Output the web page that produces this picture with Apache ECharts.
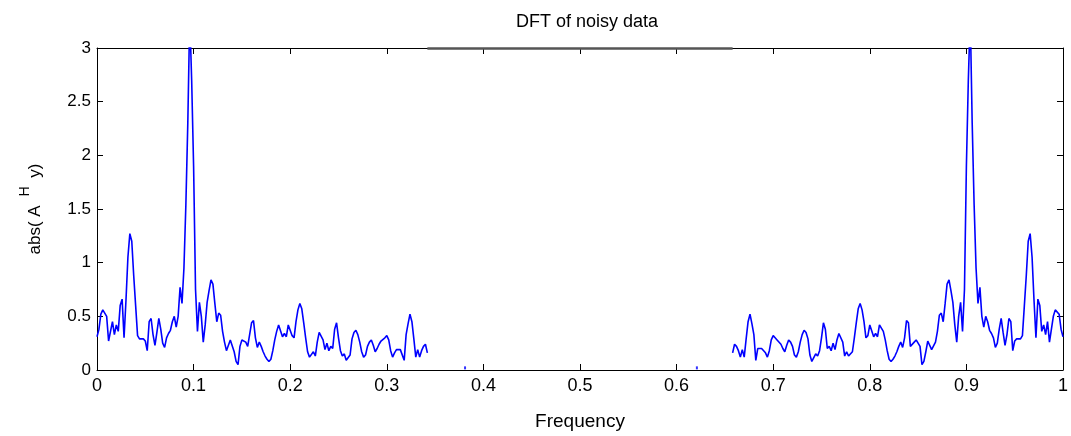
<!DOCTYPE html>
<html>
<head>
<meta charset="utf-8">
<script src="https://cdn.jsdelivr.net/npm/echarts@6/dist/echarts.min.js"></script>
<style>html,body{margin:0;padding:0;background:#fff;}#c{width:1071px;height:436px;}</style>
</head>
<body>
<div id="c"></div>
<script>
// Frequency grid step and start of each visible band
const freqStep = 0.002;
const leftStart = 0.0;
const rightStart = 0.658;
// |A^H y|, low band (0 .. 0.342)
const leftMag = [
0.31,0.38,0.52,0.56,0.56,0.50,0.27,0.26,0.45,0.33,
0.42,0.36,0.60,0.66,0.30,0.65,1.05,1.27,1.20,0.88,
0.60,0.32,0.29,0.29,0.29,0.27,0.18,0.45,0.48,0.33,
0.23,0.35,0.48,0.38,0.25,0.21,0.30,0.34,0.37,0.45,
0.50,0.40,0.50,0.77,0.62,0.95,1.54,2.30,3.30,2.70,
1.90,0.75,0.36,0.63,0.50,0.26,0.42,0.63,0.74,0.84,
0.80,0.62,0.45,0.53,0.51,0.36,0.26,0.18,0.19,0.28,
0.27,0.17,0.08,0.05,0.22,0.28,0.28,0.26,0.22,0.22,
0.44,0.46,0.30,0.21,0.26,0.22,0.17,0.13,0.10,0.08,
0.10,0.18,0.28,0.36,0.42,0.42,0.31,0.34,0.31,0.42,
0.42,0.32,0.30,0.45,0.56,0.62,0.57,0.44,0.30,0.17,
0.12,0.13,0.17,0.13,0.26,0.35,0.34,0.28,0.19,0.25,
0.18,0.22,0.20,0.38,0.44,0.30,0.18,0.13,0.15,0.09,
0.08,0.14,0.29,0.35,0.37,0.33,0.26,0.17,0.12,0.14,
0.22,0.26,0.28,0.23,0.17,0.20,0.24,0.27,0.28,0.30,
0.32,0.28,0.18,0.12,0.16,0.19,0.20,0.19,0.20,0.09,
0.33,0.43,0.52,0.45,0.29,0.12,0.19,0.12,0.18,0.22,
0.24,0.16
];
// high band (0.658 .. 1.0)
const rightMag = [
0.16,0.24,0.22,0.18,0.12,0.19,0.12,0.29,0.45,0.52,0.43,0.33,
0.09,0.20,0.19,0.20,0.19,0.16,0.12,0.18,0.28,0.32,
0.30,0.28,0.27,0.24,0.20,0.17,0.23,0.28,0.26,0.22,
0.14,0.12,0.17,0.26,0.33,0.37,0.35,0.29,0.14,0.08,
0.09,0.15,0.13,0.18,0.30,0.44,0.38,0.20,0.22,0.18,
0.25,0.19,0.28,0.34,0.35,0.26,0.13,0.17,0.13,0.12,
0.17,0.30,0.44,0.57,0.62,0.56,0.45,0.30,0.32,0.42,
0.42,0.31,0.34,0.31,0.42,0.42,0.36,0.28,0.18,0.10,
0.08,0.10,0.13,0.17,0.22,0.26,0.21,0.30,0.46,0.44,
0.22,0.22,0.26,0.28,0.28,0.22,0.05,0.08,0.17,0.27,
0.28,0.19,0.18,0.26,0.36,0.51,0.53,0.45,0.62,0.80,
0.84,0.74,0.63,0.42,0.26,0.50,0.63,0.36,0.75,1.90,
2.70,3.30,2.30,1.54,0.95,0.62,0.77,0.50,0.40,0.50,
0.45,0.37,0.34,0.30,0.21,0.25,0.38,0.48,0.35,0.23,
0.33,0.48,0.45,0.18,0.27,0.29,0.29,0.29,0.32,0.60,
0.88,1.20,1.27,1.05,0.65,0.30,0.66,0.60,0.36,0.42,
0.33,0.45,0.26,0.27,0.50,0.56,0.56,0.52,0.38,0.31
];
// isolated points in the stop band
const dotFreq = [0.381, 0.621];
const dotMag = [0.02, 0.02];
const xTicks = [0,0.1,0.2,0.3,0.4,0.5,0.6,0.7,0.8,0.9,1];
const yTicks = [0,0.5,1,1.5,2,2.5,3];

const pairs = (start, vals) => vals.map((v, i) => [+(start + i * freqStep).toFixed(4), v]);
const leftData = pairs(leftStart, leftMag);
const rightData = pairs(rightStart, rightMag);
const dotData = dotFreq.map((f, i) => [f, dotMag[i]]);

const FONT = 'Liberation Sans';
const chart = echarts.init(document.getElementById('c'), null, {renderer: 'canvas'});
const lineStyle = {color: '#0000ff', width: 1.6};
const axisCommon = {
  type: 'value',
  axisLine: {show: true, onZero: false, lineStyle: {color: '#000', width: 1}},
  axisTick: {show: true, inside: true, length: 6, lineStyle: {color: '#000', width: 1}},
  splitLine: {show: false}
};
chart.setOption({
  animation: false,
  backgroundColor: '#fff',
  title: {
    text: 'DFT of noisy data',
    left: 582, top: 8, textAlign: 'center',
    textStyle: {fontFamily: FONT, fontSize: 18, fontWeight: 'normal', color: '#000'}
  },
  grid: {left: 97, right: 3, top: 48, bottom: 66},
  xAxis: [
    Object.assign({}, axisCommon, {
      min: 0, max: 1, interval: 0.1, position: 'bottom',
      name: 'Frequency', nameLocation: 'middle', nameGap: 42,
      nameTextStyle: {fontFamily: FONT, fontSize: 19, color: '#000'},
      axisLabel: {fontFamily: FONT, fontSize: 18, color: '#000', margin: 7,
        formatter: v => String(+v.toFixed(1))}
    }),
    Object.assign({}, axisCommon, {
      min: 0, max: 1, interval: 0.1, position: 'top', axisLabel: {show: false}
    })
  ],
  yAxis: [
    Object.assign({}, axisCommon, {
      min: 0, max: 3, interval: 0.5, position: 'left',
      name: '{n|abs( A }{s|H}{n| y)}', nameLocation: 'middle', nameGap: 53, nameRotate: 90,
      nameTextStyle: {fontFamily: FONT, fontSize: 17, color: '#000',
        rich: {n: {fontFamily: FONT, fontSize: 17, color: '#000', verticalAlign: 'bottom', lineHeight: 26},
               s: {fontFamily: FONT, fontSize: 14, color: '#000', verticalAlign: 'top', padding: [0, 4, 12, 4], lineHeight: 26}}},
      axisLabel: {fontFamily: FONT, fontSize: 17, color: '#000', margin: 6,
        formatter: v => String(+v.toFixed(1))}
    }),
    Object.assign({}, axisCommon, {
      min: 0, max: 3, interval: 0.5, position: 'right', axisLabel: {show: false}
    })
  ],
  series: [
    {type: 'line', data: leftData, showSymbol: false, lineStyle: lineStyle, clip: true, z: 3,
     markLine: {silent: true, symbol: 'none', label: {show: false},
       lineStyle: {color: '#555', width: 2.5, type: 'solid'},
       data: [[{coord: [leftData[leftData.length - 1][0], 3]}, {coord: [rightStart, 3]}]]}},
    {type: 'line', data: rightData, showSymbol: false, lineStyle: lineStyle, clip: true, z: 3},
    {type: 'scatter', data: dotData, symbol: 'rect', symbolSize: [2, 3],
     itemStyle: {color: '#0000ff'}, z: 3}
  ]
});
</script>
</body>
</html>
